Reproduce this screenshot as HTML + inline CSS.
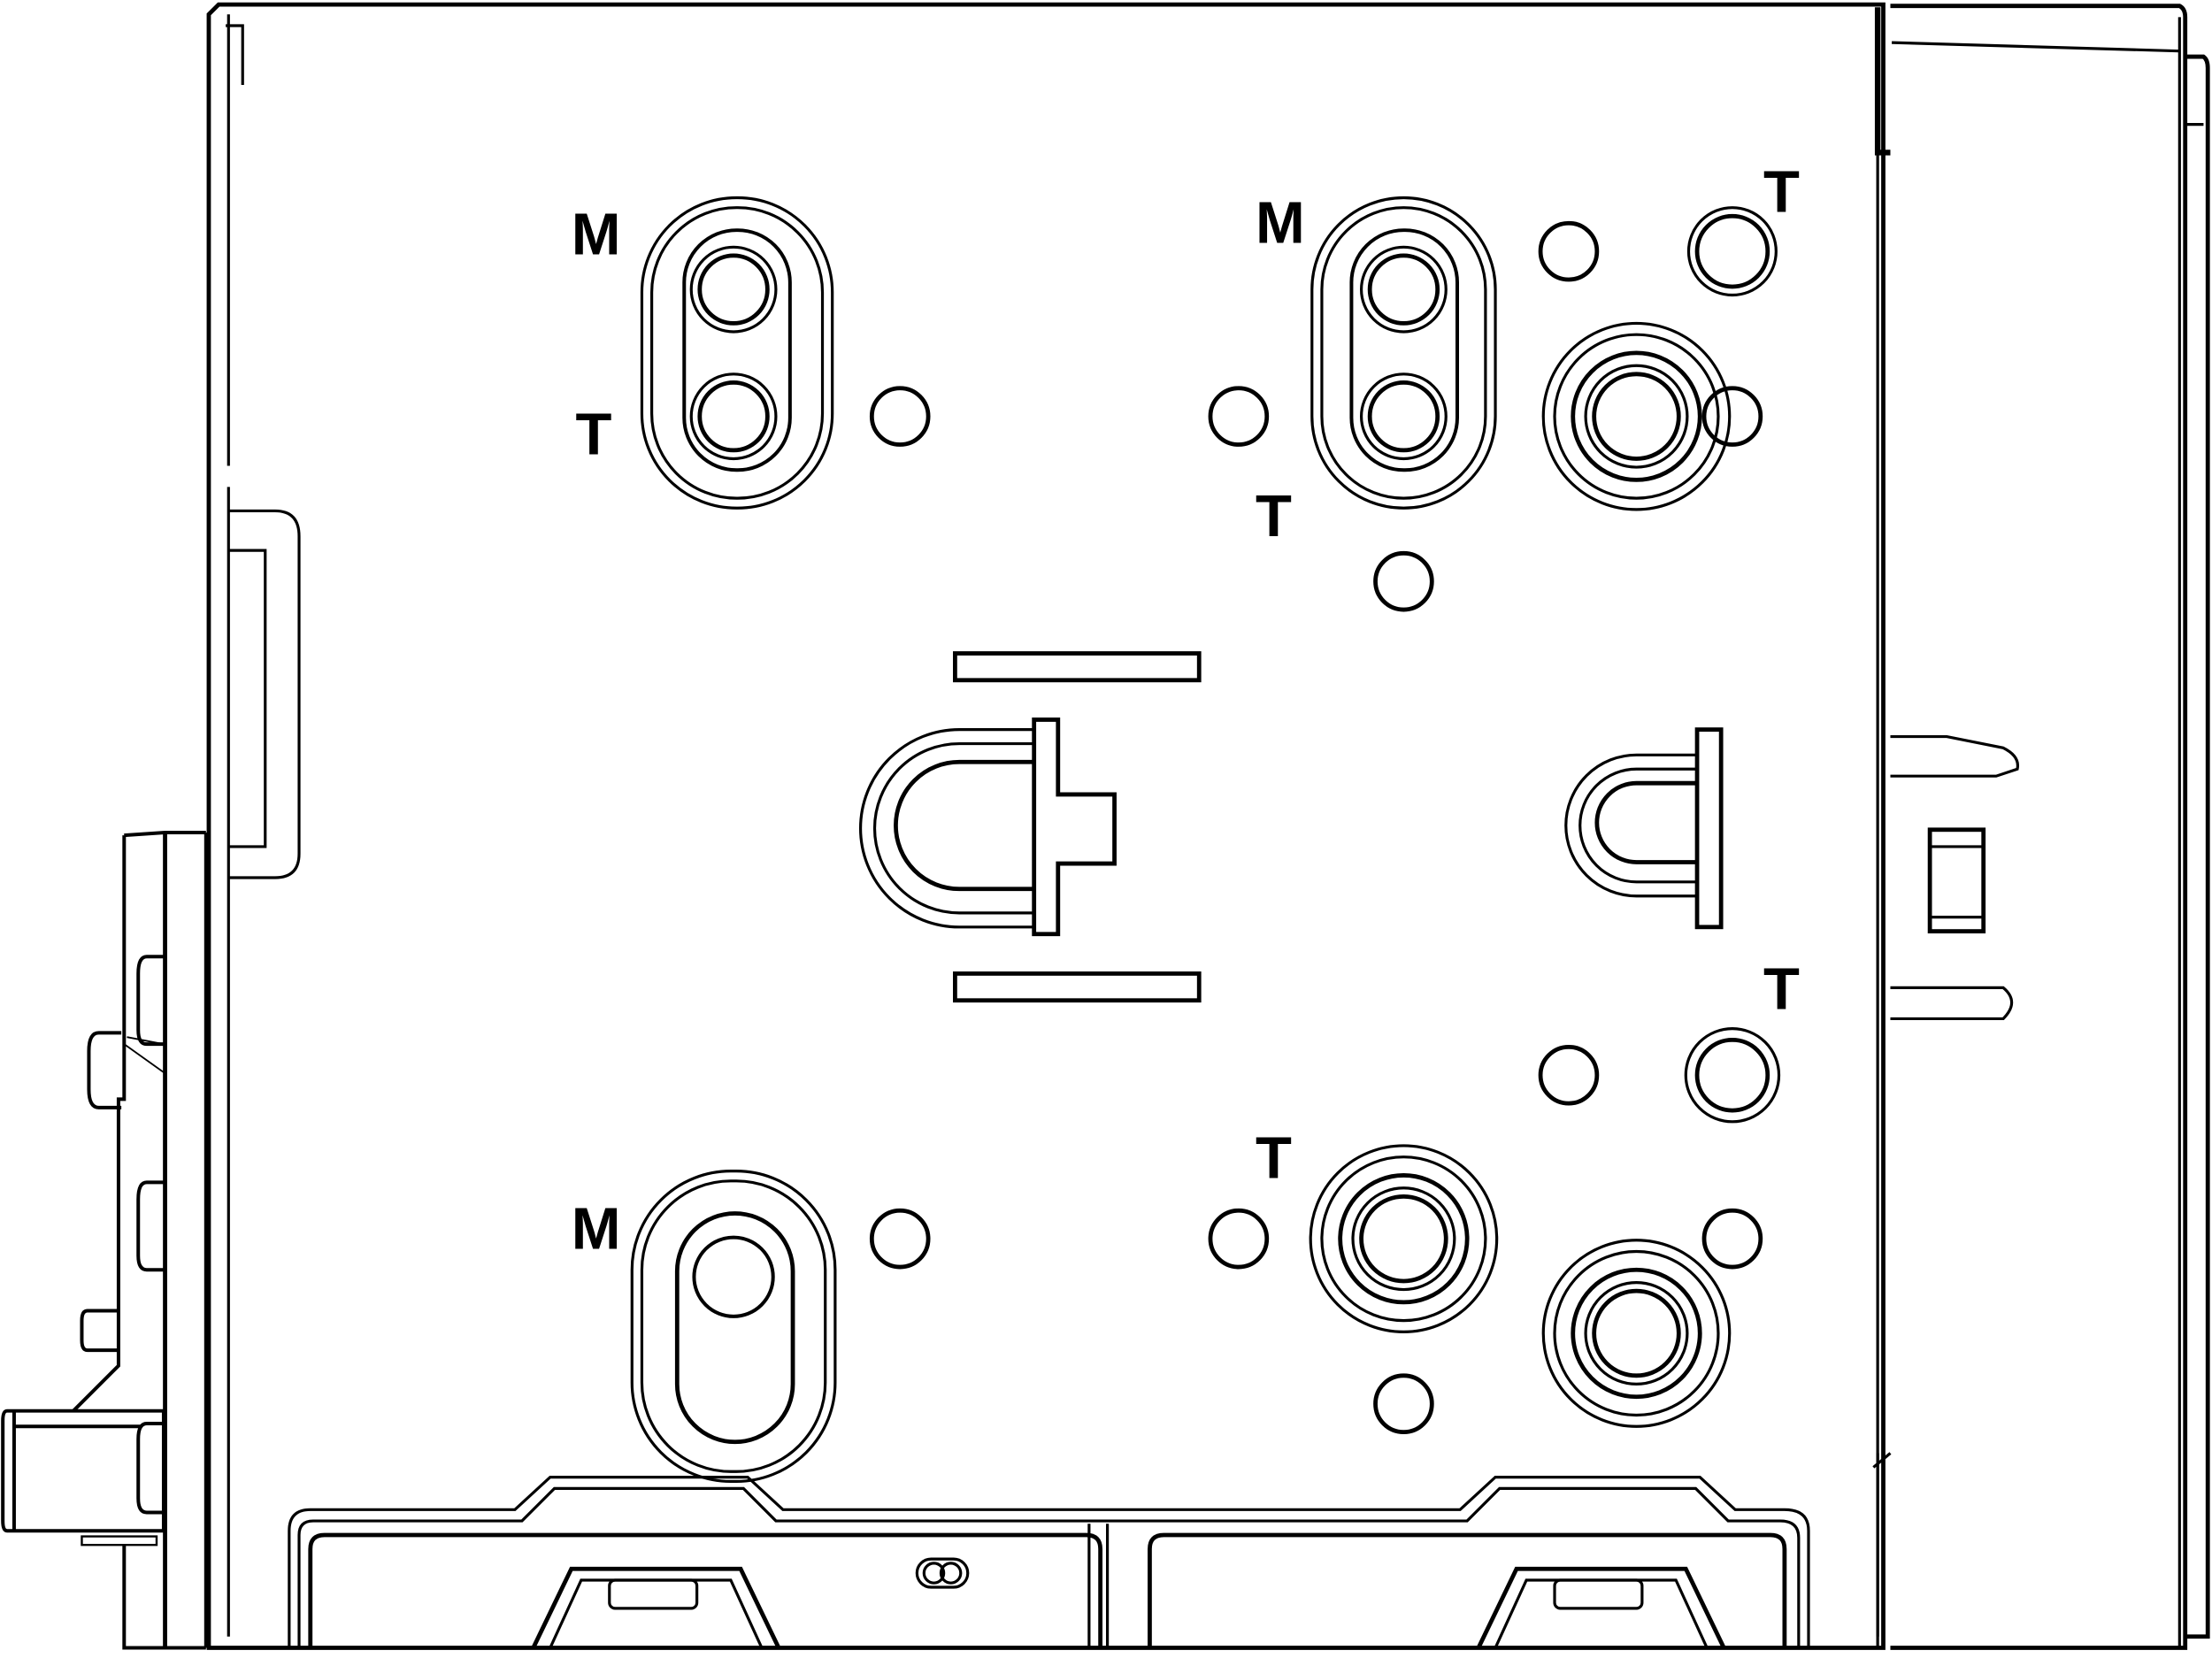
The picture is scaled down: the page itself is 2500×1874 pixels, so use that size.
<!DOCTYPE html>
<html><head><meta charset="utf-8"><style>
html,body{margin:0;padding:0;background:#fff;}
svg{display:block}
text{font-family:"Liberation Sans",sans-serif;font-weight:bold;font-size:42px;fill:#000}
</style></head><body>
<svg width="2500" height="1874" viewBox="0 0 1568 1175" xmlns="http://www.w3.org/2000/svg" fill="none" stroke="#000" stroke-width="2">
<rect width="1568" height="1175" fill="#fff" stroke="none"/>
<!-- main body -->
<path d="M155 3 H1335 V1168 H148 V10 Z" stroke-width="3"/>
<path d="M162 10 V330 M162 345 V1160"/>
<path d="M160 18 H172 V60"/>
<!-- right box -->
<path d="M1340 4 H1545 Q1549 6 1549 12 V1168 H1340" stroke-width="3"/>
<path d="M1341 30 L1545 36"/>
<path d="M1545 12 V1168"/>
<path d="M1549 40 H1562 Q1565 42 1565 48 V1160 H1549" stroke-width="3"/>
<path d="M1549 88 H1562"/>
<path d="M1331 5 V108 H1340" stroke-width="4"/>
<path d="M1331 108 V1168"/>
<path d="M1331 1030 V1160 M1328 1040 L1340 1030"/>
<!-- right clips -->
<path d="M1340 522 H1380 L1420 530 Q1432 536 1430 545 L1415 550 H1340"/>
<path d="M1340 700 H1380 L1420 700 Q1432 710 1420 722 H1340"/>
<rect x="1368" y="588" width="38" height="72" stroke-width="3"/>
<path d="M1368 600 H1406 M1368 650 H1406"/>
<!-- left side tab -->
<path d="M162 362 H195 Q212 362 212 380 V605 Q212 622 195 622 H162"/>
<path d="M162 390 H188 V600 H162"/>
<!-- left connector -->
<g stroke-width="2.5">
<path d="M88 592 L117 590 H146"/>
<path d="M88 592 V779 H84 V968 L52 1000 M88 1095 V1168 H146"/>
<path d="M117 590 V1168" stroke-width="3"/>
<path d="M146 590 V1168"/>
<path d="M116 678 H104 Q98 678 98 690 V730 Q98 740 104 740 H116"/>
<path d="M116 838 H104 Q98 838 98 850 V890 Q98 900 104 900 H116"/>
<path d="M116 1009 H104 Q98 1009 98 1020 V1062 Q98 1072 104 1072 H116"/>
<path d="M86 732 H70 Q63 732 63 745 V772 Q63 785 70 785 H86"/>
<path d="M84 929 H62 Q58 929 58 936 V950 Q58 957 62 957 L84 957"/>
<path d="M5 1000 H116 V1085 H5 Q2 1085 2 1078 V1007 Q2 1000 5 1000 Z"/>
<path d="M10 1000 V1085 M10 1011 H100"/>
<path d="M58 1089 H111 V1095 H58 Z" stroke-width="1.5"/>
<path d="M90 735 L116 740 M88 740 L116 760" stroke-width="1.2"/>
</g>
<!-- slot 1 -->
<rect x="455" y="140" width="135" height="220" rx="67"/>
<rect x="462" y="147" width="121" height="206" rx="60"/>
<rect x="485" y="163" width="75" height="170" rx="37" stroke-width="2.5"/>
<circle cx="520" cy="205" r="30"/><circle cx="520" cy="205" r="24" stroke-width="3"/>
<circle cx="520" cy="295" r="30"/><circle cx="520" cy="295" r="24" stroke-width="3"/>
<!-- slot 2 -->
<rect x="930" y="140" width="130" height="220" rx="65"/>
<rect x="937" y="147" width="116" height="206" rx="58"/>
<rect x="958" y="163" width="75" height="170" rx="37" stroke-width="2.5"/>
<circle cx="995" cy="205" r="30"/><circle cx="995" cy="205" r="24" stroke-width="3"/>
<circle cx="995" cy="295" r="30"/><circle cx="995" cy="295" r="24" stroke-width="3"/>
<!-- slot 3 -->
<rect x="448" y="830" width="144" height="220" rx="70"/>
<rect x="455" y="837" width="130" height="206" rx="63"/>
<rect x="480" y="860" width="82" height="162" rx="41" stroke-width="3"/>
<circle cx="520" cy="905" r="28" stroke-width="2.5"/>
<!-- small holes -->
<g stroke-width="3">
<circle cx="638" cy="295" r="20"/><circle cx="878" cy="295" r="20"/><circle cx="995" cy="412" r="20"/>
<circle cx="1112" cy="178" r="20"/><circle cx="1228" cy="295" r="20"/>
<circle cx="638" cy="878" r="20"/><circle cx="878" cy="878" r="20"/><circle cx="995" cy="995" r="20"/>
<circle cx="1112" cy="762" r="20"/><circle cx="1228" cy="878" r="20"/>
<circle cx="1228" cy="178" r="25"/>
<circle cx="1228" cy="762" r="25"/>
</g>
<circle cx="1228" cy="178" r="31"/>
<circle cx="1228" cy="762" r="33"/>
<!-- bosses -->
<g>
<circle cx="1160" cy="295" r="66"/><circle cx="1160" cy="295" r="58"/><circle cx="1160" cy="295" r="45" stroke-width="3"/><circle cx="1160" cy="295" r="36"/><circle cx="1160" cy="295" r="30" stroke-width="3"/>
<circle cx="995" cy="878" r="66"/><circle cx="995" cy="878" r="58"/><circle cx="995" cy="878" r="45" stroke-width="3"/><circle cx="995" cy="878" r="36"/><circle cx="995" cy="878" r="30" stroke-width="3"/>
<circle cx="1160" cy="945" r="66"/><circle cx="1160" cy="945" r="58"/><circle cx="1160" cy="945" r="45" stroke-width="3"/><circle cx="1160" cy="945" r="36"/><circle cx="1160" cy="945" r="30" stroke-width="3"/>
</g>
<!-- bars -->
<rect x="677" y="463" width="173" height="19" stroke-width="3"/>
<rect x="677" y="690" width="173" height="19" stroke-width="3"/>
<!-- U left -->
<path d="M733 517 H680 A70 70 0 0 0 680 657 H733"/>
<path d="M733 527 H680 A60 60 0 0 0 680 647 H733"/>
<path d="M733 540 H680 A45 45 0 0 0 680 630 H733" stroke-width="3"/>
<path d="M733 510 H750 V563 H790 V612 H750 V662 H733 Z" stroke-width="3"/>
<!-- U right -->
<path d="M1203 535 H1160 A50 50 0 0 0 1160 635 H1203"/>
<path d="M1203 545 H1160 A40 40 0 0 0 1160 625 H1203"/>
<path d="M1203 555 H1160 A28 28 0 0 0 1160 611 H1203" stroke-width="3"/>
<rect x="1203" y="517" width="17" height="140" stroke-width="3"/>
<!-- bottom tray -->
<path d="M205 1168 V1085 Q205 1070 220 1070 H365 L390 1047 H530 L555 1070 H1035 L1060 1047 H1205 L1230 1070 H1265 Q1282 1070 1282 1085 V1168"/>
<path d="M212 1168 V1088 Q212 1078 222 1078 H370 L393 1055 H527 L550 1078 H1040 L1063 1055 H1202 L1225 1078 H1262 Q1275 1078 1275 1090 V1168"/>
<path d="M220 1168 V1098 Q220 1088 230 1088 H770 Q780 1088 780 1098 V1168" stroke-width="3"/>
<path d="M815 1168 V1098 Q815 1088 825 1088 H1255 Q1265 1088 1265 1098 V1168" stroke-width="3"/>
<path d="M772 1080 V1168 M785 1080 V1168"/>
<path d="M378 1168 L405 1112 H525 L552 1168" stroke-width="3"/>
<path d="M390 1168 L412 1120 H518 L540 1168"/>
<rect x="432" y="1120" width="62" height="20" rx="4"/>
<path d="M1048 1168 L1075 1112 H1195 L1222 1168" stroke-width="3"/>
<path d="M1060 1168 L1082 1120 H1188 L1210 1168"/>
<rect x="1102" y="1120" width="62" height="20" rx="4"/>
<rect x="650" y="1105" width="36" height="20" rx="10"/>
<circle cx="662" cy="1115" r="7"/><circle cx="674" cy="1115" r="7"/>
<!-- labels -->
<g stroke="none">
<text x="405" y="180">M</text>
<text x="408" y="322">T</text>
<text x="890" y="172">M</text>
<text x="890" y="380">T</text>
<text x="1250" y="150">T</text>
<text x="1250" y="715">T</text>
<text x="890" y="835">T</text>
<text x="405" y="885">M</text>
</g>
</svg>
</body></html>
